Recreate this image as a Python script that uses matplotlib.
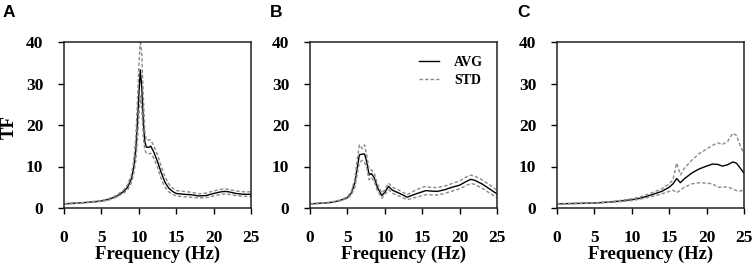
import matplotlib
matplotlib.use('Agg')
import matplotlib.pyplot as plt

# 주파수별 전달함수(TF) 평균/표준편차 곡선 데이터
freq_a = [0, 2, 4, 5, 6, 7, 8, 8.5, 9, 9.3, 9.6, 9.8, 10.0, 10.2, 10.4, 10.6, 10.8, 11.0, 11.3, 11.6,
          12.0, 12.5, 13.0, 13.5, 14.0, 14.5, 15, 16, 17, 18, 19, 20, 21, 21.5, 22, 23, 24, 25]
avg_a = [1.0, 1.2, 1.5, 1.7, 2.1, 2.8, 4.0, 5.0, 7.0, 9.5, 14, 20, 27, 33.3, 29, 21, 16, 14.7, 14.6, 14.9,
         13.5, 11.2, 8.5, 6.2, 4.8, 4.0, 3.5, 3.3, 3.2, 2.9, 3.0, 3.5, 3.9, 4.0, 3.9, 3.5, 3.3, 3.3]
upper_a = [1.05, 1.25, 1.6, 1.8, 2.3, 3.0, 4.4, 5.6, 8.0, 11, 17, 25, 34, 40.5, 37, 27, 18.5, 16.3, 16.4, 16.4,
           15, 12.8, 10, 7.5, 5.8, 4.8, 4.2, 4.0, 3.8, 3.4, 3.6, 4.1, 4.5, 4.6, 4.5, 4.1, 3.9, 3.9]
lower_a = [0.95, 1.15, 1.4, 1.6, 1.9, 2.6, 3.6, 4.4, 6.0, 8, 11.5, 16, 22, 27, 24, 17, 14, 13.2, 13.0, 13.2,
           12, 9.8, 7.0, 5.0, 3.9, 3.3, 2.9, 2.7, 2.6, 2.4, 2.5, 2.9, 3.3, 3.4, 3.3, 3.0, 2.8, 2.8]

freq_b = [0, 2, 3, 4, 5, 5.5, 6.0, 6.3, 6.6, 7.0, 7.3, 7.6, 7.9, 8.2, 8.6, 9.0, 9.6, 10.0, 10.5, 11.0,
          12, 13, 14, 15, 15.5, 16, 17, 18, 19, 20, 21, 21.5, 22, 23, 24, 25]
avg_b = [1.0, 1.2, 1.4, 1.8, 2.5, 3.5, 6.0, 9.5, 12.8, 13.0, 13.0, 11.0, 8.0, 8.3, 7.3, 5.0, 3.0, 3.8, 5.2, 4.3,
         3.5, 2.6, 3.3, 3.9, 4.2, 4.1, 4.0, 4.4, 5.0, 5.5, 6.5, 6.9, 6.7, 5.8, 4.6, 3.4]
upper_b = [1.05, 1.25, 1.5, 1.9, 2.7, 3.9, 7.0, 11.5, 15.2, 14.3, 15.2, 12.5, 9.3, 9.2, 8.3, 5.8, 3.6, 4.4, 6.0, 5.0,
           4.2, 3.2, 4.2, 5.0, 5.2, 5.0, 4.9, 5.3, 5.9, 6.5, 7.6, 7.9, 7.7, 6.8, 5.6, 4.3]
lower_b = [0.95, 1.15, 1.3, 1.7, 2.3, 3.1, 5.0, 8.0, 11.0, 11.5, 11.0, 9.5, 6.8, 7.4, 6.3, 4.2, 2.4, 3.2, 4.4, 3.6,
           2.8, 2.0, 2.5, 3.0, 3.2, 3.2, 3.1, 3.5, 4.1, 4.6, 5.5, 5.9, 5.7, 4.8, 3.6, 2.5]

freq_c = [0, 2.5, 5, 7.5, 10, 11, 12, 13, 14, 15, 15.5, 16.0, 16.5, 17, 18, 19, 20, 20.8, 21.5, 22.1,
          22.8, 23.5, 24.0, 24.5, 25]
avg_c = [1.0, 1.1, 1.2, 1.5, 2.0, 2.3, 2.8, 3.4, 4.0, 5.0, 5.8, 7.1, 6.1, 7.0, 8.4, 9.4, 10.1, 10.6, 10.5, 10.1,
         10.4, 11.1, 10.8, 9.6, 8.4]
upper_c = [1.05, 1.15, 1.25, 1.6, 2.2, 2.6, 3.2, 3.9, 4.6, 5.8, 6.8, 10.8, 8.0, 9.5, 11.5, 13.1, 14.2, 15.1, 15.7, 15.3,
           16.0, 18.0, 17.5, 15.0, 13.0]
lower_c = [0.95, 1.05, 1.15, 1.4, 1.8, 2.1, 2.5, 2.9, 3.4, 4.0, 4.3, 3.7, 4.3, 5.0, 5.8, 6.1, 6.0, 5.8, 5.0, 5.0,
           5.1, 4.6, 4.2, 4.1, 4.3]

panel_labels = ['A', 'B', 'C']
x_ticks = [0, 5, 10, 15, 20, 25]
y_ticks = [0, 10, 20, 30, 40]

SERIF = 'Liberation Serif'
SANS = 'Liberation Sans'
W, H = 754, 273


def draw_panel(ax, freq, avg, upper, lower, show_ylabel=False, show_legend=False):
    ax.plot(freq, avg, color='black', lw=1.0, label='AVG')
    ax.plot(freq, upper, color='#8a8a8a', lw=1.0, ls=(0, (2.5, 1.5)), label='STD')
    ax.plot(freq, lower, color='#8a8a8a', lw=1.0, ls=(0, (2.5, 1.5)))

    ax.set_xlim(0, 25)
    ax.set_ylim(0, 40)
    ax.set_xticks(x_ticks)
    ax.set_yticks(y_ticks)
    ax.tick_params(direction='out', length=4.5, width=1, labelsize=12.5)
    ax.tick_params(axis='x', pad=11)
    ax.tick_params(axis='y', pad=10.5)
    for lbl in ax.get_xticklabels() + ax.get_yticklabels():
        lbl.set_fontfamily(SERIF)
        lbl.set_fontweight('bold')
    for sp in ax.spines.values():
        sp.set_linewidth(1.1)
        sp.set_color('#222222')

    ax.set_xlabel('Frequency (Hz)', fontsize=13.5, fontweight='bold', family=SERIF, labelpad=0)
    if show_ylabel:
        ax.set_ylabel('TF', fontsize=13.5, fontweight='bold', family=SERIF,
                      ha='center', va='center')
        # 라벨 중심이 x=9px 근처에 오도록
        ax.yaxis.set_label_coords((9 - 64) / 187, 0.49)
    if show_legend:
        ax.legend(loc='upper right', frameon=False, handlelength=1.4, handletextpad=1.1,
                  labelspacing=0.35, borderaxespad=0.6,
                  prop={'family': SERIF, 'weight': 'bold', 'size': 10})


fig = plt.figure(figsize=(W / 100, H / 100), dpi=100)
lefts = [64, 310, 557]
label_x = [3, 270, 517]
bottom = (H - 208) / H
height = 166 / H
width = 187 / W

data = [(freq_a, avg_a, upper_a, lower_a),
        (freq_b, avg_b, upper_b, lower_b),
        (freq_c, avg_c, upper_c, lower_c)]

for i, (left, d) in enumerate(zip(lefts, data)):
    ax = fig.add_axes([left / W, bottom, width, height])
    draw_panel(ax, *d, show_ylabel=(i == 0), show_legend=(i == 1))
    # 패널 라벨 (A/B/C)
    fig.text(label_x[i] / W, 1 - 5 / H, panel_labels[i], fontsize=12.5, fontweight='bold',
             family=SANS, ha='left', va='top')

fig.savefig('out.png', dpi=100)
